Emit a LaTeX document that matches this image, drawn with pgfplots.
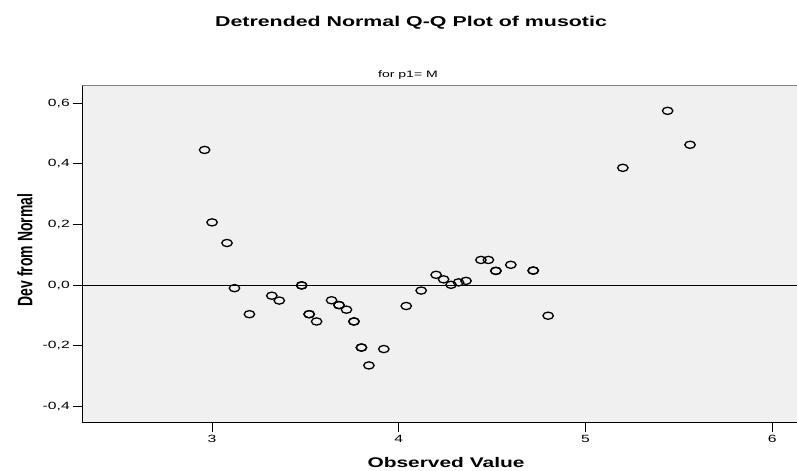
\documentclass[border=0pt]{standalone}
\usepackage{fontspec}
\usepackage{graphicx}
\setmainfont{Liberation Sans}
\newfontfamily\wide{Liberation Sans}[FakeStretch=1.5]
\usepackage{pgfplots}
\pgfplotsset{compat=1.18}
\definecolor{bggray}{HTML}{F0F0F0}
\definecolor{bordergray}{HTML}{7F7F7F}
\begin{document}
\begin{tikzpicture}
\useasboundingbox (0,0) rectangle (797bp,471bp);
\begin{axis}[
  at={(82.3bp,48.3bp)}, anchor=south west,
  scale only axis,
  width=717.9bp, height=337bp,
  xmin=2.305, xmax=6.15,
  ymin=-0.454, ymax=0.658,
  axis x line*=bottom, axis y line*=left,
  axis line style={-, black, line width=1.3bp},
  axis background/.style={fill=bggray},
  xtick={3,4,5,6},
  ytick={-0.4,-0.2,0,0.2,0.4,0.6},
  tick align=outside,
  major tick length=9bp,
  tick style={black, line width=1bp},
  /pgf/number format/assume math mode=true,
  xticklabel style={font=\wide\fontsize{10.5}{12}\selectfont},
  yticklabel style={font=\wide\fontsize{10.5}{12}\selectfont,
    /pgf/number format/.cd, fixed, fixed zerofill, precision=1, use comma},
  clip=false,
]
\draw[bordergray, line width=1.3bp] (rel axis cs:0,1) -- (rel axis cs:1,1);
\addplot[black, line width=1bp, forget plot] coordinates {(2.305,0) (6.15,0)};
\addplot[only marks, mark=o, mark size=3.6bp,
  mark options={xscale=1.45, line width=1.3bp, black}] coordinates {
(2.96,0.446) (3.00,0.207) (3.08,0.139) (3.12,-0.010) (3.20,-0.096)
(3.32,-0.035) (3.36,-0.051) (3.48,-0.001) (3.48,-0.001) (3.52,-0.096) (3.52,-0.096)
(3.56,-0.120) (3.64,-0.050) (3.68,-0.066) (3.68,-0.066) (3.72,-0.081)
(3.76,-0.120) (3.76,-0.120) (3.80,-0.206) (3.80,-0.206) (3.84,-0.265) (3.92,-0.211)
(4.04,-0.069) (4.12,-0.018) (4.20,0.034) (4.24,0.019) (4.28,0.001) (4.32,0.009)
(4.36,0.014) (4.44,0.083) (4.48,0.083) (4.52,0.047) (4.52,0.047) (4.60,0.067)
(4.72,0.048) (4.72,0.048) (4.80,-0.101) (5.20,0.387) (5.44,0.575) (5.56,0.463)
};
\end{axis}
\node[font=\wide\bfseries\fontsize{14.3}{16}\selectfont] at (411bp,448bp) {Detrended Normal Q-Q Plot of musotic};
\node[font=\wide\fontsize{9.4}{11}\selectfont] at (408bp,396bp) {for p1= M};
\node[font=\wide\bfseries\fontsize{14}{16}\selectfont] at (446bp,8bp) {Observed Value};
\node[font=\bfseries\fontsize{14}{16}\selectfont, rotate=90] at (25bp,221bp) {\scalebox{1}[1.5]{Dev from Normal}};
\end{tikzpicture}
\end{document}
